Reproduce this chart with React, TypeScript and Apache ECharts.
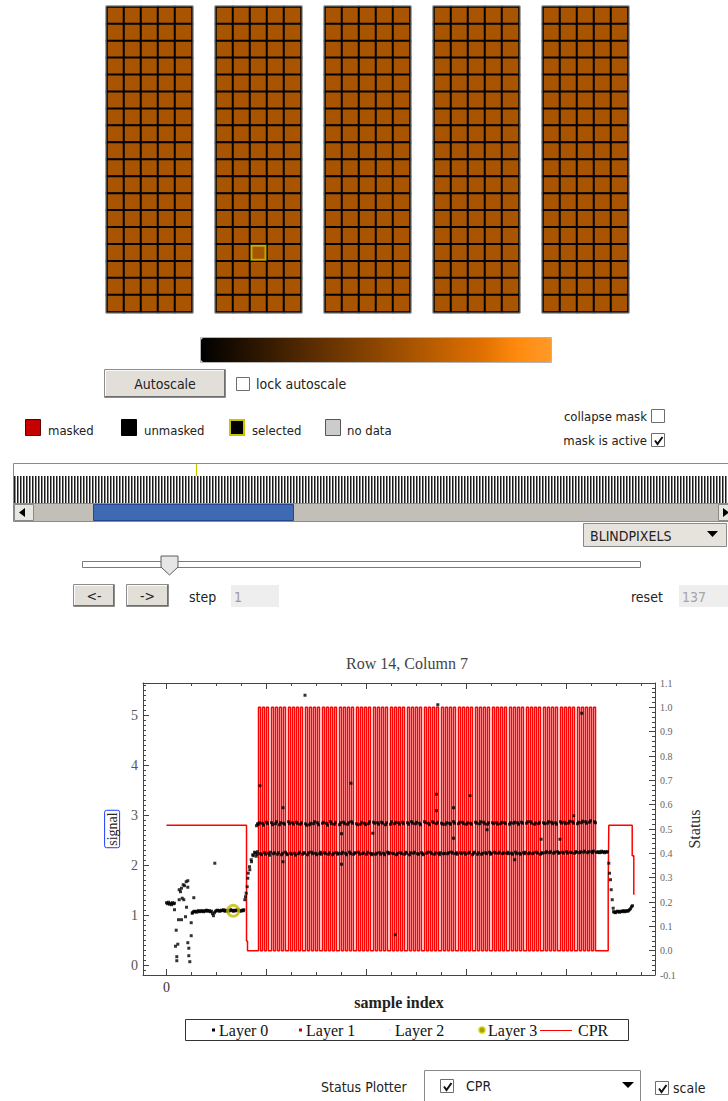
import React, { useEffect, useRef } from "react";
import * as echarts from "echarts";

// ---------------- data ----------------
const PANEL_COUNT = 5;
const PANEL_ROWS = 18;
const PANEL_COLS = 5;
const PIXEL_VALUE = 0.6;
const SELECTED_PIXEL = { panel: 1, col: 2, row: 14 };

const COLORBAR_COLORS = [
  "#000000", "#1c0e00", "#381c00", "#552a00", "#713800", "#8c4600",
  "#a85400", "#c46200", "#e07000", "#ff8a0e", "#ff9a2a",
];

const LAYER0_EARLY: [number, number][] = [
  [0, 1.26], [1, 1.24], [2, 1.27], [3, 1.23], [4, 1.25], [5, 1.22], [6, 1.26], [7, 1.24], [8, 1.25],
  [8, 1.12], [9.7, 0.71], [9, 0.39], [11.3, 0.43], [10.3, 0.18], [10.3, 0.1], [12, 0.92], [12.7, 1.32],
  [12.7, 1.52], [14, 1.48], [15, 1.55], [15.7, 1.35], [16.7, 1.62], [17.3, 1.32], [15, 0.92], [19, 0.98],
  [18, 1.6], [19.7, 1.68], [21.3, 1.7], [21.3, 1.57], [20, 1.17], [21.3, 0.46], [22.3, 0.35], [22.3, 0.2],
  [23.3, 0.08], [24.7, 0.6], [24.7, 0.86], [27.3, 1.36], [25.7, 1.05],
];
const LAYER0_FLAT_START = 26;
const LAYER0_FLAT_Y = [
  1.06, 1.08, 1.09, 1.08, 1.07, 1.09, 1.1, 1.08, 1.09, 1.1, 1.09, 1.08, 1.1, 1.09, 1.11, 1.1, 1.09, 1.1,
  1.08, 1.09, 1.04, 1.0, 1.06, 1.09, 1.1, 1.11, 1.1, 1.09, 1.1, 1.11, 1.1, 1.12, 1.1, 1.09, 1.11, 1.1,
  1.09, 1.11, 1.12, 1.1, 1.11, 1.09, 1.1, 1.11, 1.1, 1.12, 1.11, 1.1, 1.09, 1.1, 1.11, 1.1,
];
const LAYER0_RISE: [number, number][] = [
  [77.3, 1.12], [78.3, 1.32], [79, 1.38], [79.7, 1.45], [80.7, 1.58], [81.3, 1.75], [81.7, 1.85], [83, 1.98],
  [83.3, 1.92], [84.7, 2.12], [85, 2.08], [86.3, 2.22], [86.7, 2.2], [88, 2.27], [89, 2.25], [89.7, 2.19],
  [90.7, 2.23], [91, 2.28], [90, 2.8], [91, 2.84],
];
const BAND_START = 92;
const BAND_Y = [
  2.83, 2.86, 2.24, 2.22, 2.85, 2.81, 2.26, 2.23, 2.87, 2.84, 2.25, 2.21, 2.27, 2.86, 2.82, 2.24, 2.26,
  2.84, 2.88, 2.23, 2.26, 2.82, 2.86, 2.22, 2.25, 2.85, 2.83, 2.27, 2.24, 2.22, 2.88, 2.84, 2.25, 2.23,
  2.86, 2.83, 2.25, 2.21, 2.87, 2.84, 2.24, 2.27, 2.83, 2.86, 2.23, 2.26, 2.25, 2.84, 2.81, 2.22, 2.26,
  2.82, 2.85, 2.27, 2.24, 2.84, 2.88, 2.25, 2.22, 2.86, 2.82, 2.24, 2.27, 2.23, 2.85, 2.87, 2.26, 2.24,
  2.85, 2.81, 2.23, 2.26, 2.88, 2.84, 2.22, 2.25, 2.83, 2.87, 2.26, 2.23, 2.25, 2.82, 2.86, 2.24, 2.27,
  2.87, 2.84, 2.25, 2.22, 2.83, 2.86, 2.27, 2.24, 2.88, 2.85, 2.23, 2.25, 2.26, 2.84, 2.82, 2.27, 2.23,
  2.83, 2.87, 2.24, 2.26, 2.85, 2.82, 2.23, 2.27, 2.84, 2.88, 2.25, 2.22, 2.24, 2.87, 2.85, 2.23, 2.25,
  2.86, 2.83, 2.26, 2.23, 2.87, 2.85, 2.25, 2.22, 2.82, 2.86, 2.27, 2.24, 2.26, 2.83, 2.88, 2.25, 2.24,
  2.84, 2.87, 2.22, 2.25, 2.86, 2.83, 2.26, 2.24, 2.87, 2.84, 2.23, 2.27, 2.25, 2.86, 2.83, 2.22, 2.26,
  2.88, 2.85, 2.25, 2.27, 2.84, 2.87, 2.24, 2.23, 2.85, 2.82, 2.26, 2.24, 2.22, 2.88, 2.86, 2.25, 2.27,
  2.85, 2.82, 2.27, 2.24, 2.88, 2.86, 2.23, 2.26, 2.84, 2.87, 2.25, 2.22, 2.26, 2.85, 2.83, 2.24, 2.25,
  2.83, 2.86, 2.24, 2.26, 2.85, 2.83, 2.27, 2.25, 2.88, 2.85, 2.24, 2.26, 2.23, 2.84, 2.87, 2.26, 2.24,
  2.87, 2.84, 2.26, 2.23, 2.83, 2.86, 2.25, 2.27, 2.85, 2.83, 2.22, 2.25, 2.27, 2.87, 2.85, 2.23, 2.26,
  2.84, 2.88, 2.23, 2.25, 2.87, 2.84, 2.26, 2.24, 2.83, 2.86, 2.27, 2.23, 2.25, 2.86, 2.84, 2.27, 2.25,
  2.86, 2.83, 2.25, 2.27, 2.84, 2.87, 2.24, 2.26, 2.86, 2.84, 2.25, 2.27, 2.24, 2.83, 2.86, 2.25, 2.23,
  2.85, 2.87, 2.27, 2.24, 2.86, 2.83, 2.25, 2.23, 2.87, 2.85, 2.26, 2.24, 2.27, 2.85, 2.88, 2.24, 2.26,
  2.88, 2.85, 2.24, 2.26, 2.83, 2.86, 2.27, 2.25, 2.84, 2.87, 2.23, 2.26, 2.25, 2.86, 2.84, 2.26, 2.28,
  2.85, 2.88, 2.26, 2.28, 2.87, 2.84, 2.25, 2.27, 2.86, 2.83, 2.28, 2.25, 2.26, 2.88, 2.85, 2.27, 2.25,
  2.87, 2.84, 2.28, 2.25, 2.85, 2.89, 2.27, 2.26, 2.88, 2.85, 2.25, 2.28, 2.27, 2.84, 2.87, 2.26, 2.28,
  2.86, 2.89, 2.27, 2.29, 2.88, 2.85, 2.26, 2.28, 2.87, 2.9, 2.28, 2.26, 2.29, 2.88, 2.86, 2.27,
];
const LAYER0_TAIL_START = 431;
const LAYER0_TAIL_Y = [2.27, 2.28, 2.26, 2.27, 2.29, 2.27, 2.28, 2.26, 2.28, 2.27, 2.28];
const LAYER0_DROP: [number, number][] = [
  [442.3, 2.05], [443, 1.85], [444, 1.72], [444.7, 1.52], [445.7, 1.32], [446.7, 1.15],
];
const LAYER0_END_START = 447;
const LAYER0_END_Y = [
  1.08, 1.07, 1.06, 1.08, 1.09, 1.08, 1.07, 1.09, 1.08, 1.09, 1.1, 1.08, 1.09, 1.1, 1.09, 1.1, 1.12, 1.14, 1.18, 1.2,
];
const LAYER0_OUTLIERS: [number, number][] = [
  [93.5, 3.6], [116.5, 3.16], [138.5, 5.41], [116.5, 2.08], [175, 2.03], [175, 2.64], [184.5, 3.65],
  [206.3, 2.65], [271.3, 5.22], [415.2, 5.05], [270, 3.43], [303.6, 3.4], [270, 3.1], [287, 3.16],
  [287, 2.55], [374.6, 2.53], [393.5, 2.53], [407.3, 3.0], [348.2, 2.12], [320.6, 2.72], [228.7, 0.62],
  [48.3, 2.05],
];
const LAYER3_POINTS: [number, number][] = [[66.7, 1.1]];

const CPR_LEAD: [number, number][] = [
  [0, 0.515], [80, 0.515], [80, 0.04], [81, 0.04], [81, 0], [92, 0],
];
const CPR_PULSE_STARTS = [
  92, 96, 100, 105, 109, 113, 117, 122, 126, 130, 134, 139, 143, 147, 151, 156, 160, 164, 168, 173,
  177, 181, 185, 190, 194, 198, 202, 207, 211, 215, 219, 224, 228, 232, 236, 241, 245, 249, 253, 258,
  262, 266, 270, 275, 279, 283, 287, 292, 296, 300, 304, 309, 313, 317, 321, 326, 330, 334, 338, 343,
  347, 351, 355, 360, 364, 368, 372, 377, 381, 385, 389, 394, 398, 402, 406, 411, 415, 419, 423, 427,
];
const CPR_PULSE_WIDTH = 2;
const CPR_HIGH = 1;
const CPR_LOW = 0;
const CPR_TAIL: [number, number][] = [
  [430, 0], [441.7, 0], [441.7, 0.27], [442.3, 0.27], [442.3, 0.515], [465.7, 0.515],
  [465.7, 0.39], [467.3, 0.39], [467.3, 0.23],
];

const X_MAJOR = [0, 100, 200, 300, 400];
const X_LABELS = [0];
const Y_LEFT_MAJOR = [0, 1, 2, 3, 4, 5];
const Y_RIGHT_MAJOR = [-0.1, 0, 0.1, 0.2, 0.3, 0.4, 0.5, 0.6, 0.7, 0.8, 0.9, 1.0, 1.1];
const LEGEND_ITEMS = ["Layer 0", "Layer 1", "Layer 2", "Layer 3", "CPR"];

// ---------------- build ----------------
const SERIF = "'Liberation Serif', 'Times New Roman', serif";
const UI_FONT = "'DejaVu Sans Condensed', 'DejaVu Sans', sans-serif";

function buildOption() {
  const panelLeft = (i: number) => 107 + i * 109;
  const PANEL_TOP = 7;
  const PANEL_W = 85;
  const PANEL_H = 305;

  const grids: any[] = [];
  const xAxes: any[] = [];
  const yAxes: any[] = [];
  const series: any[] = [];

  const cols = Array.from({ length: PANEL_COLS }, (_, i) => String(i));
  const rows = Array.from({ length: PANEL_ROWS }, (_, i) => String(i));

  for (let p = 0; p < PANEL_COUNT; p++) {
    grids.push({ left: panelLeft(p), top: PANEL_TOP, width: PANEL_W, height: PANEL_H, show: false });
    xAxes.push({ gridIndex: p, type: "category", data: cols, show: false });
    yAxes.push({ gridIndex: p, type: "category", data: rows, inverse: true, show: false });
    const data: number[][] = [];
    for (let c = 0; c < PANEL_COLS; c++)
      for (let r = 0; r < PANEL_ROWS; r++) data.push([c, r, PIXEL_VALUE]);
    series.push({
      type: "heatmap",
      xAxisIndex: p,
      yAxisIndex: p,
      data,
      itemStyle: { borderColor: "#000", borderWidth: 2 },
      emphasis: { disabled: true },
      silent: true,
    });
  }
  series.push({
    type: "scatter",
    xAxisIndex: SELECTED_PIXEL.panel,
    yAxisIndex: SELECTED_PIXEL.panel,
    data: [[SELECTED_PIXEL.col, SELECTED_PIXEL.row]],
    symbol: "rect",
    symbolSize: 14,
    itemStyle: { color: "rgba(0,0,0,0)", borderColor: "#c8c400", borderWidth: 2 },
    z: 5,
    silent: true,
  });

  // main chart
  const G = PANEL_COUNT;
  const X_MIN = -23.5;
  const X_MAX = 488.5;
  grids.push({ left: 143, top: 683, width: 512, height: 292, show: false });
  const xMinor: number[] = [];
  for (let v = 25; v < X_MAX; v += 25) if (v % 100 !== 0) xMinor.push(v);
  const yLeftMinor: number[] = [];
  for (let k = -1; k <= 56; k++) if (k % 10 !== 0) yLeftMinor.push(k / 10);
  const yRightMinor: number[] = [];
  for (let k = -5; k <= 55; k++) if (k % 5 !== 0) yRightMinor.push(k / 50);

  const axisColor = "#444";
  const xBase = (pos: string, ticks: number[], len: number, line: boolean) => ({
    gridIndex: G,
    type: "value",
    position: pos,
    min: X_MIN,
    max: X_MAX,
    axisLine: { show: line, onZero: false, lineStyle: { color: axisColor } },
    axisTick: { show: true, inside: true, length: len, customValues: ticks, lineStyle: { color: axisColor } },
    axisLabel: { show: false },
    splitLine: { show: false },
  });
  xAxes.push({
    ...xBase("bottom", X_MAJOR, 6, true),
    axisLabel: { show: true, customValues: X_LABELS, margin: 5, fontFamily: SERIF, fontSize: 14, color: "#333" },
    name: "sample index",
    nameLocation: "middle",
    nameGap: 18,
    nameTextStyle: { fontFamily: SERIF, fontSize: 16, fontWeight: "bold", color: "#222" },
  });
  xAxes.push(xBase("bottom", xMinor, 3, false));
  xAxes.push(xBase("top", X_MAJOR, 6, true));
  xAxes.push(xBase("top", xMinor, 3, false));

  const yL = (ticks: number[], len: number, line: boolean) => ({
    gridIndex: G,
    type: "value",
    position: "left",
    min: -0.186,
    max: 5.655,
    axisLine: { show: line, onZero: false, lineStyle: { color: axisColor } },
    axisTick: { show: true, inside: true, length: len, customValues: ticks, lineStyle: { color: axisColor } },
    axisLabel: { show: false },
    splitLine: { show: false },
  });
  const yR = (ticks: number[], len: number, line: boolean) => ({
    gridIndex: G,
    type: "value",
    position: "right",
    min: -0.1,
    max: 1.1,
    axisLine: { show: line, onZero: false, lineStyle: { color: axisColor } },
    axisTick: { show: true, inside: true, length: len, customValues: ticks, lineStyle: { color: axisColor } },
    axisLabel: { show: false },
    splitLine: { show: false },
  });
  const Y_LEFT = yAxes.length;
  yAxes.push({
    ...yL(Y_LEFT_MAJOR, 6, true),
    axisLabel: { show: true, customValues: Y_LEFT_MAJOR, margin: 5, fontFamily: SERIF, fontSize: 14, color: "#555" },
    name: "signal",
    nameLocation: "middle",
    nameRotate: 90,
    nameGap: 15,
    nameTextStyle: {
      fontFamily: SERIF, fontSize: 14, color: "#222",
      borderColor: "#1c3cff", borderWidth: 1, borderRadius: 2, padding: [1, 2, 0, 2],
    },
  });
  yAxes.push(yL(yLeftMinor, 3, false));
  const Y_RIGHT = yAxes.length;
  yAxes.push({
    ...yR(Y_RIGHT_MAJOR, 6, true),
    axisLabel: {
      show: true, customValues: Y_RIGHT_MAJOR, margin: 5, fontFamily: SERIF, fontSize: 10, color: "#666",
      formatter: (v: number) => v.toFixed(1),
    },
    name: "Status",
    nameLocation: "middle",
    nameRotate: 90,
    nameGap: 28,
    nameTextStyle: { fontFamily: SERIF, fontSize: 16, color: "#333" },
  });
  yAxes.push(yR(yRightMinor, 3, false));

  // CPR line
  const cpr: number[][] = [...CPR_LEAD];
  for (const s of CPR_PULSE_STARTS) {
    cpr.push([s, CPR_LOW], [s, CPR_HIGH], [s + CPR_PULSE_WIDTH, CPR_HIGH], [s + CPR_PULSE_WIDTH, CPR_LOW]);
  }
  cpr.push(...CPR_TAIL);
  series.push({
    type: "line",
    name: "CPR",
    xAxisIndex: G,
    yAxisIndex: Y_RIGHT,
    data: cpr,
    showSymbol: false,
    lineStyle: { color: "#ff0000", width: 1.5 },
    silent: true,
    z: 2,
  });

  // Layer 0
  const layer0: number[][] = [...LAYER0_EARLY];
  LAYER0_FLAT_Y.forEach((y, i) => layer0.push([LAYER0_FLAT_START + i, y]));
  layer0.push(...LAYER0_RISE);
  BAND_Y.forEach((y, i) => layer0.push([BAND_START + i, y]));
  LAYER0_TAIL_Y.forEach((y, i) => layer0.push([LAYER0_TAIL_START + i, y]));
  layer0.push(...LAYER0_DROP);
  LAYER0_END_Y.forEach((y, i) => layer0.push([LAYER0_END_START + i, y]));
  layer0.push(...LAYER0_OUTLIERS);
  series.push({
    type: "scatter",
    name: "Layer 0",
    xAxisIndex: G,
    yAxisIndex: Y_LEFT,
    data: layer0,
    symbol: "rect",
    symbolSize: 3,
    itemStyle: { color: "#000" },
    silent: true,
    z: 3,
  });
  series.push({
    type: "scatter",
    name: "Layer 3",
    xAxisIndex: G,
    yAxisIndex: Y_LEFT,
    data: LAYER3_POINTS,
    symbol: "circle",
    symbolSize: 11,
    itemStyle: { color: "rgba(0,0,0,0)", borderColor: "#c2bd00", borderWidth: 3 },
    silent: true,
    z: 4,
  });

  // ---------------- graphics ----------------
  const g: any[] = [];
  const R = (x: number, y: number, w: number, h: number, fill: string, stroke?: string, lw = 1) =>
    g.push({ type: "rect", silent: true, shape: { x, y, width: w, height: h }, style: { fill, stroke: stroke || null, lineWidth: lw } });
  const T = (x: number, y: number, text: string, o: any = {}) =>
    g.push({
      type: "text", silent: true, x, y,
      style: { text, fontFamily: UI_FONT, fontSize: 14, fill: "#222", align: "left", verticalAlign: "middle", ...o },
    });
  const L = (x1: number, y1: number, x2: number, y2: number, stroke: string, lw = 1) =>
    g.push({ type: "line", silent: true, shape: { x1, y1, x2, y2 }, style: { stroke, lineWidth: lw } });
  const P = (points: number[][], fill: string, stroke?: string) =>
    g.push({ type: "polygon", silent: true, shape: { points }, style: { fill, stroke: stroke || null } });
  const check = (x: number, y: number) =>
    g.push({
      type: "polyline", silent: true,
      shape: { points: [[x + 3, y + 6.5], [x + 5.5, y + 10], [x + 10.5, y + 3]] },
      style: { stroke: "#111", lineWidth: 2, fill: null },
    });
  const box = (x: number, y: number, checked: boolean) => {
    R(x + 0.5, y + 0.5, 13, 13, "#ffffff", "#6e6e6e");
    if (checked) check(x + 1, y + 1);
  };
  const button = (x: number, y: number, w: number, h: number, label: string) => {
    R(x + 0.5, y + 0.5, w - 1, h - 1, "#e2dfd9", "#8c8c8c");
    L(x + 1.5, y + 1.5, x + w - 2, y + 1.5, "#fbfbfb");
    L(x + 1.5, y + 1.5, x + 1.5, y + h - 2, "#fbfbfb");
    L(x + 1, y + h - 1.5, x + w - 1, y + h - 1.5, "#6f6f6f");
    L(x + w - 1.5, y + 1, x + w - 1.5, y + h - 1, "#6f6f6f");
    T(x + w / 2, y + h / 2 + 0.5, label, { align: "center" });
  };

  // panel outlines
  for (let p = 0; p < PANEL_COUNT; p++) {
    g.push({
      type: "rect", silent: true, z: 10,
      shape: { x: panelLeft(p) - 1, y: PANEL_TOP - 1, width: PANEL_W + 2, height: PANEL_H + 2 },
      style: { fill: null, stroke: "#8f8f8f", lineWidth: 1 },
    });
  }
  // colorbar outline
  g.push({
    type: "rect", silent: true, z: 10,
    shape: { x: 200.5, y: 337.5, width: 351, height: 25 },
    style: { fill: null, stroke: "#b5b5b5", lineWidth: 1 },
  });

  // autoscale row
  button(104, 369, 122, 29, "Autoscale");
  box(236, 377, false);
  T(256, 384, "lock autoscale");

  // mask legend row
  R(25.5, 419.5, 15, 16, "#c40000", "#5a0000");
  T(48, 430, "masked", { fontSize: 13 });
  R(121.5, 419.5, 15, 16, "#000000", "#000000");
  T(144, 430, "unmasked", { fontSize: 13 });
  R(230, 420, 14, 15, "#000000", "#c8c400", 2);
  T(252, 430, "selected", { fontSize: 13 });
  R(325.5, 419.5, 15, 16, "#cccccc", "#555555");
  T(347, 430, "no data", { fontSize: 13 });
  T(647, 416, "collapse mask", { fontSize: 13, align: "right" });
  box(651, 409, false);
  T(647, 440, "mask is active", { fontSize: 13, align: "right" });
  box(651, 433, true);

  // timeline strip
  R(13.5, 463.5, 730, 40, "#ffffff", "#8a8a8a");
  L(196.5, 464, 196.5, 476, "#c8c800", 1);
  for (let x = 14; x < 728; x += 3) {
    R(x, 476, 1, 27, "#1b1b1b");
    R(x + 1, 476, 1, 27, "#8a8a8a");
  }
  // scrollbar
  R(13.5, 503.5, 730, 18, "#c2bfb8", "#8a8a8a");
  R(14.5, 504.5, 19, 16, "#e8e6e1", "#8a8a8a");
  P([[19, 512.5], [25, 508], [25, 517]], "#000");
  R(93.5, 504.5, 200, 16, "#3e69b3", "#27478c");
  R(718.5, 504.5, 20, 16, "#e8e6e1", "#8a8a8a");
  P([[723, 508], [723, 517], [729, 512.5]], "#000");

  // BLINDPIXELS combo
  R(583.5, 523.5, 143, 23, "#e6e3dd", "#8a8a8a");
  T(590, 535.5, "BLINDPIXELS");
  P([[707, 531], [718, 531], [712.5, 537]], "#000");

  // slider
  R(82.5, 561.5, 558, 6, "#ffffff", "#7a7a7a");
  P([[161, 556], [178, 556], [178, 567], [169.5, 575], [161, 567]], "#e6e6e6", "#5e5e5e");

  // step row
  button(73, 584, 42, 23, "<-");
  button(126, 584, 43, 23, "->");
  T(189, 597, "step");
  R(231, 585, 48, 22, "#eeeeee");
  T(234, 597, "1", { fill: "#9a9a9a" });
  T(631, 597, "reset");
  R(679, 585, 49, 22, "#eeeeee");
  T(682, 597, "137", { fill: "#a5a5a5" });

  // chart title
  T(407, 663, "Row 14, Column 7", { fontFamily: SERIF, fontSize: 16, fill: "#444", align: "center" });

  // chart legend
  R(185.5, 1019.5, 443, 21, "#ffffff", "#333333");
  const ly = 1030;
  R(212, ly - 1.5, 3, 3, "#000");
  T(219, ly, LEGEND_ITEMS[0], { fontFamily: SERIF, fontSize: 16, fill: "#111" });
  R(299, ly - 1.5, 3, 3, "#d00000");
  T(306, ly, LEGEND_ITEMS[1], { fontFamily: SERIF, fontSize: 16, fill: "#111" });
  R(389, ly - 1, 2, 2, "#e8e8e8");
  T(395, ly, LEGEND_ITEMS[2], { fontFamily: SERIF, fontSize: 16, fill: "#111" });
  g.push({
    type: "circle", silent: true, shape: { cx: 482, cy: ly, r: 3 },
    style: { fill: "#a8a000", stroke: "#d4d000", lineWidth: 1.5 },
  });
  T(488, ly, LEGEND_ITEMS[3], { fontFamily: SERIF, fontSize: 16, fill: "#111" });
  L(540, ly + 0.5, 572, ly + 0.5, "#ff0000", 1);
  T(578, ly, LEGEND_ITEMS[4], { fontFamily: SERIF, fontSize: 16, fill: "#111" });

  // status plotter row
  T(321, 1087, "Status Plotter");
  R(424.5, 1070.5, 216, 36, "#ffffff", "#8a8a8a");
  box(440, 1079, true);
  T(466, 1086, "CPR");
  P([[622, 1082], [634, 1082], [628, 1088]], "#000");
  box(655, 1081, true);
  T(673, 1088, "scale");

  return {
    animation: false,
    backgroundColor: "#ffffff",
    grid: grids,
    xAxis: xAxes,
    yAxis: yAxes,
    visualMap: {
      type: "continuous",
      seriesIndex: [0, 1, 2, 3, 4],
      min: 0,
      max: 1,
      orient: "horizontal",
      left: 201,
      top: 338,
      itemWidth: 24,
      itemHeight: 351,
      padding: 0,
      calculable: false,
      realtime: false,
      hoverLink: false,
      text: null,
      showLabel: false,
      inRange: { color: COLORBAR_COLORS },
    },
    series,
    graphic: { elements: g },
  };
}

export default function App() {
  const ref = useRef<HTMLDivElement>(null);
  useEffect(() => {
    document.body.style.margin = "0";
    const chart = echarts.init(ref.current!, null, { renderer: "svg" });
    chart.setOption(buildOption() as any);
    return () => chart.dispose();
  }, []);
  return <div ref={ref} style={{ width: 728, height: 1101 }} />;
}
